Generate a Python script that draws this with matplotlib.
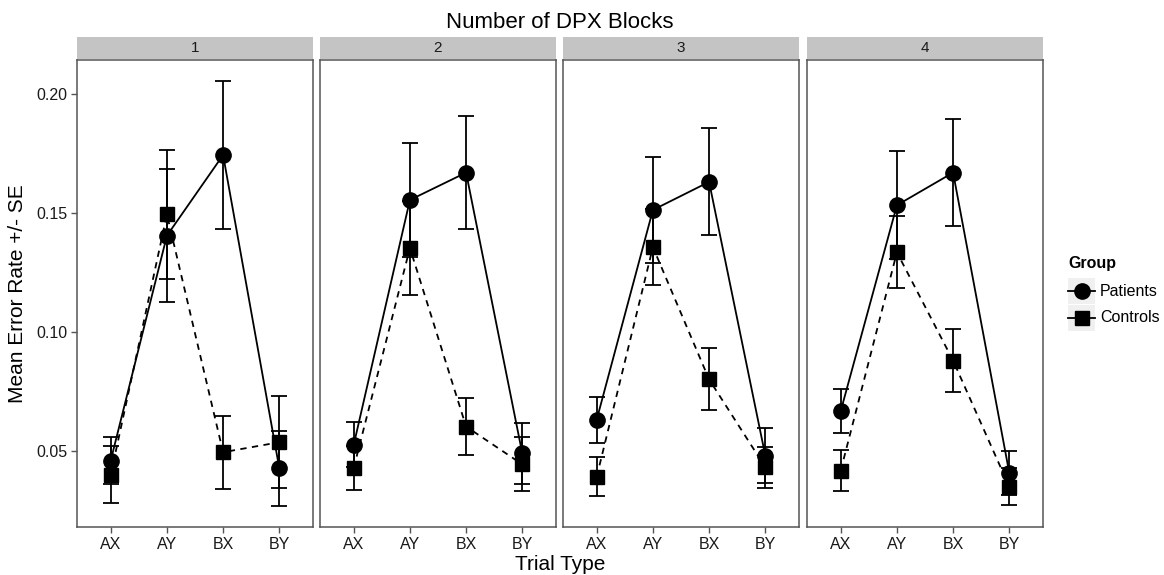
import numpy as np
import matplotlib
matplotlib.use("Agg")
import matplotlib.pyplot as plt
from matplotlib.lines import Line2D
from matplotlib.patches import Rectangle

plt.rcParams['font.family'] = ['Liberation Sans', 'DejaVu Sans']

# data
trials = ["AX", "AY", "BX", "BY"]
blocks = ["1", "2", "3", "4"]

patients_mean = [
    [0.0460, 0.1405, 0.1744, 0.0428],
    [0.0526, 0.1555, 0.1670, 0.0490],
    [0.0632, 0.1513, 0.1631, 0.0481],
    [0.0668, 0.1533, 0.1670, 0.0408],
]
patients_se = [
    [0.0100, 0.0280, 0.0310, 0.0158],
    [0.0095, 0.0240, 0.0238, 0.0128],
    [0.0097, 0.0224, 0.0225, 0.0116],
    [0.0093, 0.0226, 0.0226, 0.0094],
]
controls_mean = [
    [0.0400, 0.1494, 0.0495, 0.0537],
    [0.0429, 0.1353, 0.0603, 0.0444],
    [0.0392, 0.1357, 0.0801, 0.0432],
    [0.0418, 0.1335, 0.0880, 0.0350],
]
controls_se = [
    [0.0120, 0.0270, 0.0153, 0.0193],
    [0.0094, 0.0198, 0.0119, 0.0114],
    [0.0081, 0.0160, 0.0130, 0.0087],
    [0.0087, 0.0151, 0.0132, 0.0077],
]

W, H = 1164, 575
fig = plt.figure(figsize=(W / 100, H / 100), dpi=100)

def fx(px):
    return px / W

def fy(py):
    return 1 - py / H

# y range like ggplot (5% expansion)
pm, ps = np.array(patients_mean), np.array(patients_se)
cm, cs = np.array(controls_mean), np.array(controls_se)
lo = min((pm - ps).min(), (cm - cs).min())
hi = max((pm + ps).max(), (cm + cs).max())
pad = 0.05 * (hi - lo)

panel_left = [77, 320, 563, 807]
panel_w = 236
top, bottom = 60, 527
strip_top = 37

border = "#555555"
x = np.arange(1, len(trials) + 1)

for i, b in enumerate(blocks):
    ax = fig.add_axes([fx(panel_left[i]), fy(bottom), fx(panel_w), (bottom - top) / H])
    ax.errorbar(x, controls_mean[i], yerr=controls_se[i], color="black", lw=1.3,
                ls=(0, (3.5, 3)), marker="s", ms=10, capsize=5.5, capthick=1.3,
                elinewidth=1.3, zorder=3)
    ax.errorbar(x, patients_mean[i], yerr=patients_se[i], color="black", lw=1.3,
                ls="-", marker="o", ms=11, capsize=5.5, capthick=1.3,
                elinewidth=1.3, zorder=4)
    ax.set_xlim(0.4, 4.6)
    ax.set_ylim(lo - pad, hi + pad)
    ax.set_xticks(x)
    ax.set_xticklabels(trials, fontsize=11.5, color="#1a1a1a")
    ax.set_yticks([0.05, 0.10, 0.15, 0.20])
    if i == 0:
        ax.set_yticklabels(["0.05", "0.10", "0.15", "0.20"], fontsize=11.5, color="#1a1a1a")
    else:
        ax.tick_params(axis="y", left=False, labelleft=False)
    ax.tick_params(length=4, width=1, color=border, pad=3)
    for s in ax.spines.values():
        s.set_color(border)
        s.set_linewidth(1.1)

    # facet strip
    sax = fig.add_axes([fx(panel_left[i]), fy(top - 1), fx(panel_w), (top - 1 - strip_top) / H])
    sax.set_facecolor("#c4c4c4")
    sax.set_xticks([])
    sax.set_yticks([])
    for s in sax.spines.values():
        s.set_visible(False)
    sax.text(0.5, 0.5, b, ha="center", va="center", fontsize=11, color="#1a1a1a",
             transform=sax.transAxes)

# titles
fig.text(fx(560), fy(22), "Number of DPX Blocks", ha="center", va="center", fontsize=16)
fig.text(fx(560), fy(565), "Trial Type", ha="center", va="center", fontsize=15)
fig.text(fx(18), fy(294), "Mean Error Rate +/- SE", ha="center", va="center",
         rotation=90, fontsize=15)

# legend drawn by hand (ggplot style keys)
fig.text(fx(1068), fy(263), "Group", ha="left", va="center", fontsize=11.5, fontweight="bold")
groups = ["Patients", "Controls"]
markers = ["o", "s"]
sizes = [11, 10]
for k, (g, m, ms) in enumerate(zip(groups, markers, sizes)):
    cy = 291 + 27 * k
    fig.add_artist(Rectangle((fx(1068), fy(cy + 13)), fx(27), 26 / H,
                             transform=fig.transFigure, facecolor="#f0f0f0",
                             edgecolor="none"))
    fig.add_artist(Line2D([fx(1068), fx(1095)], [fy(cy), fy(cy)], color="black",
                          lw=1.3, transform=fig.transFigure))
    fig.add_artist(Line2D([fx(1081.5)], [fy(cy)], color="black", marker=m, ms=ms,
                          transform=fig.transFigure))
    fig.text(fx(1100), fy(cy), g, ha="left", va="center", fontsize=11.5)

fig.savefig("out.png", dpi=100)
